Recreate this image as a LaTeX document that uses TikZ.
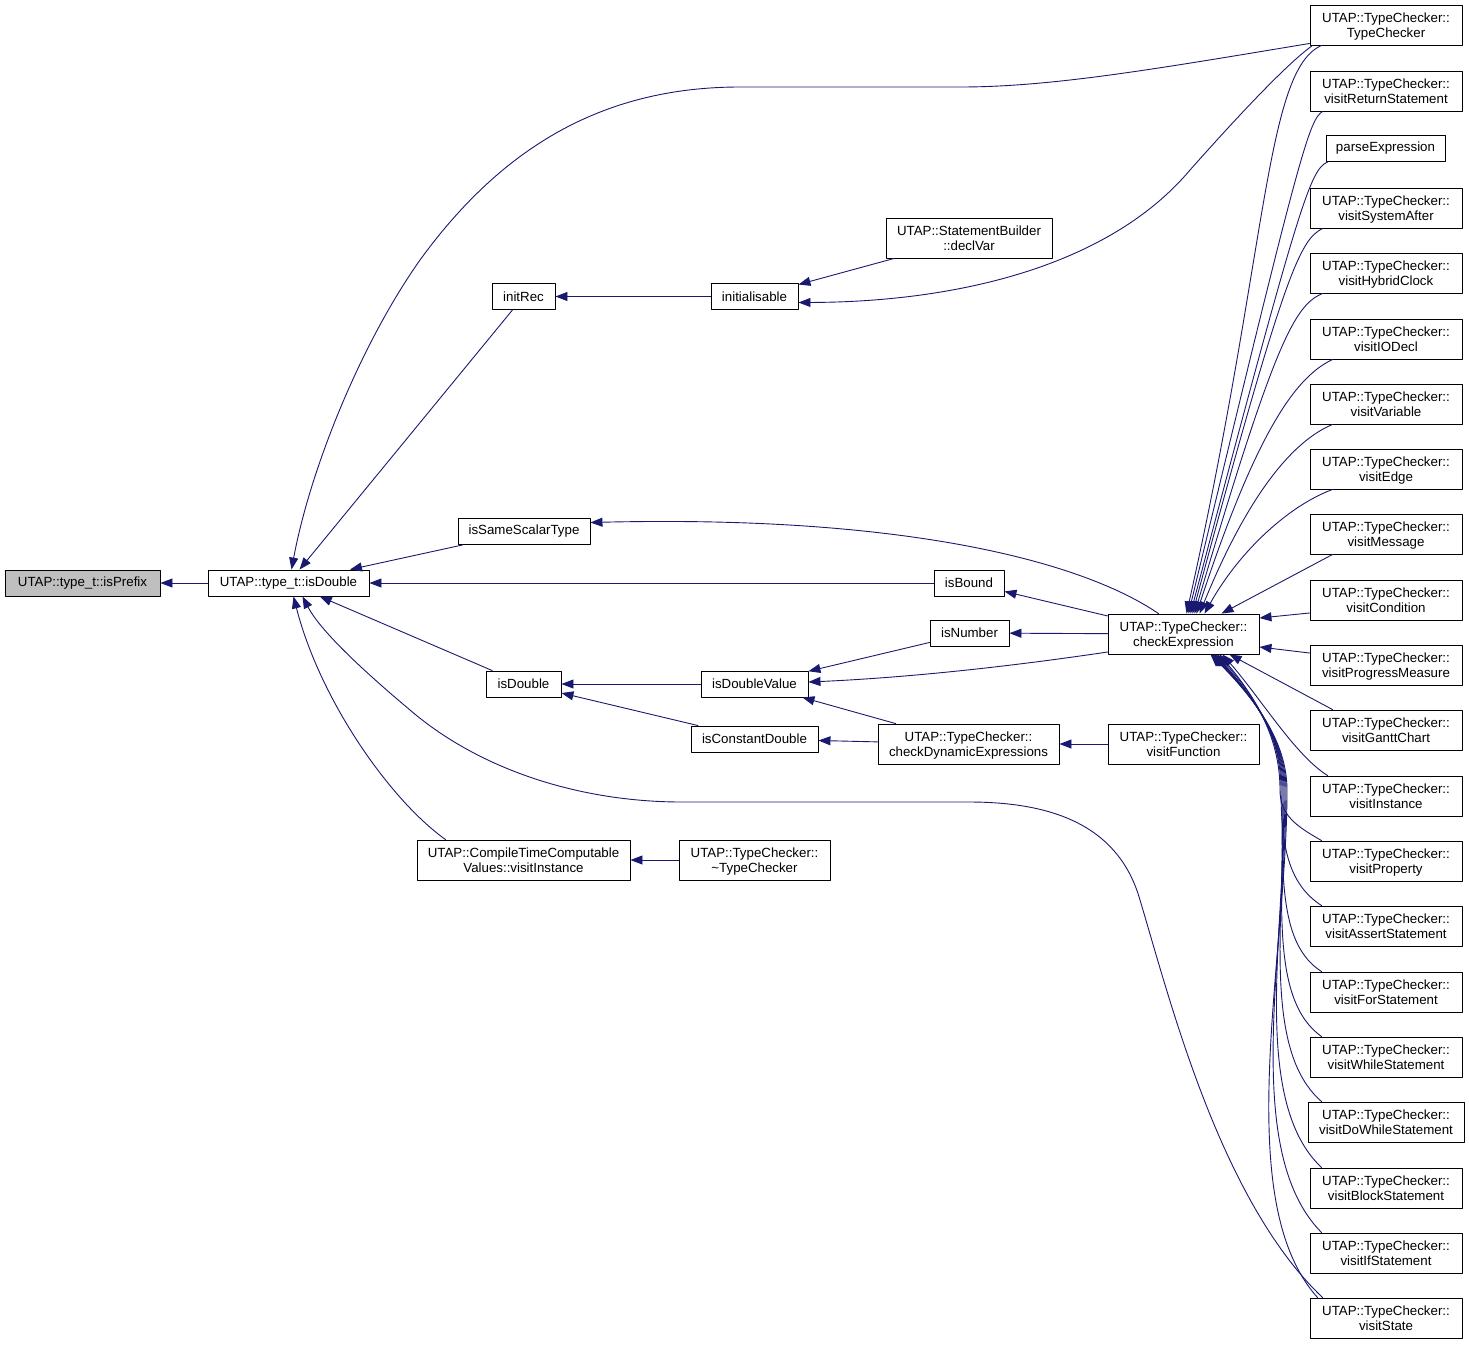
\documentclass[tikz,border=0pt]{standalone}
\usepackage{fontspec}
\setmainfont{Liberation Sans}
\usetikzlibrary{arrows.meta}
\definecolor{callblue}{RGB}{25,25,112}
\definecolor{boxgray}{RGB}{191,191,191}
\begin{document}
\begin{tikzpicture}[x=1pt, y=-1pt, font=\fontsize{13.3}{15}\selectfont, line join=round, line cap=round,
	fn/.style={draw, line width=0.9pt, inner sep=1pt, minimum height=26pt, align=center},
	fnn/.style={fn, minimum height=40pt, text depth=0pt},
	tc/.style={fnn, minimum width=152pt},
	call/.style={draw=callblue, line width=0.9pt, -{Triangle[length=12pt,width=9pt]}}]
	\def\rx{1386} % right column
	\useasboundingbox (0,0) rectangle (1469,1345);
	% left part
	\node[fn, fill=boxgray, minimum width=155] (isPrefix) at (82.5,583) {UTAP::type\_t::isPrefix};
	\node[fn, minimum width=161] (isDoubleT) at (288.5,583) {UTAP::type\_t::isDouble};
	\node[fn, minimum width=63] (initRec) at (523.5,296.5) {initRec};
	\node[fn, minimum width=132] (isSame) at (524,531.5) {isSameScalarType};
	\node[fn, minimum width=75] (isDouble) at (523.5,684) {isDouble};
	\node[fnn, minimum width=213] (ctcv) at (523.5,860) {UTAP::CompileTimeComputable\\Values::visitInstance};
	\node[fn, minimum width=87] (initialisable) at (754.5,296.5) {initialisable};
	\node[fn, minimum width=107] (isDoubleValue) at (754.5,684) {isDoubleValue};
	\node[fn, minimum width=127] (isConstDouble) at (754.5,739) {isConstantDouble};
	\node[fnn, minimum width=151] (tcDtor) at (754.5,860) {UTAP::TypeChecker::\\\textasciitilde TypeChecker};
	\node[fnn, minimum width=166] (declVar) at (969,238) {UTAP::StatementBuilder\\::declVar};
	\node[fn, minimum width=70] (isBound) at (969,583) {isBound};
	\node[fn, minimum width=79] (isNumber) at (969.5,633) {isNumber};
	\node[fnn, minimum width=181] (checkDyn) at (968.5,744) {UTAP::TypeChecker::\\checkDynamicExpressions};
	\node[fnn, minimum width=151] (checkExpr) at (1183.5,634) {UTAP::TypeChecker::\\checkExpression};
	\node[fnn, minimum width=151] (visitFunc) at (1183.5,744) {UTAP::TypeChecker::\\visitFunction};
	% right column
	\node[tc] (tc) at (\rx,25) {UTAP::TypeChecker::\\TypeChecker};
	\node[tc] (vret) at (\rx,91) {UTAP::TypeChecker::\\visitReturnStatement};
	\node[fn, minimum width=119] (parse) at (1385.5,148.5) {parseExpression};
	\node[tc] (vsys) at (\rx,208) {UTAP::TypeChecker::\\visitSystemAfter};
	\node[tc] (vhyb) at (\rx,273) {UTAP::TypeChecker::\\visitHybridClock};
	\node[tc] (vio) at (\rx,339) {UTAP::TypeChecker::\\visitIODecl};
	\node[tc] (vvar) at (\rx,404) {UTAP::TypeChecker::\\visitVariable};
	\node[tc] (vedge) at (\rx,469) {UTAP::TypeChecker::\\visitEdge};
	\node[tc] (vmsg) at (\rx,534) {UTAP::TypeChecker::\\visitMessage};
	\node[tc] (vcond) at (\rx,600) {UTAP::TypeChecker::\\visitCondition};
	\node[tc] (vprog) at (\rx,665) {UTAP::TypeChecker::\\visitProgressMeasure};
	\node[tc] (vgantt) at (\rx,730) {UTAP::TypeChecker::\\visitGanttChart};
	\node[tc] (vinst) at (\rx,796) {UTAP::TypeChecker::\\visitInstance};
	\node[tc] (vprop) at (\rx,861) {UTAP::TypeChecker::\\visitProperty};
	\node[tc] (vassert) at (\rx,926) {UTAP::TypeChecker::\\visitAssertStatement};
	\node[tc] (vfor) at (\rx,992) {UTAP::TypeChecker::\\visitForStatement};
	\node[tc] (vwhile) at (\rx,1057) {UTAP::TypeChecker::\\visitWhileStatement};
	\node[tc, minimum width=156] (vdowhile) at (\rx,1122) {UTAP::TypeChecker::\\visitDoWhileStatement};
	\node[tc] (vblock) at (\rx,1188) {UTAP::TypeChecker::\\visitBlockStatement};
	\node[tc] (vif) at (\rx,1253) {UTAP::TypeChecker::\\visitIfStatement};
	\node[tc] (vstate) at (\rx,1318) {UTAP::TypeChecker::\\visitState};
	% calls into type_t::isDouble
	\draw[call] (isDoubleT) -- (isPrefix);
	\draw[call] (initRec) -- (isDoubleT);
	\draw[call] (isSame) -- (isDoubleT);
	\draw[call] (isBound) -- (isDoubleT);
	\draw[call] (isDouble) -- (isDoubleT);
	\draw[call] ([yshift=2pt]tc.south west) .. controls (1150,70) and (1050,87) .. (960,87) -- (740,87)
		.. controls (600,87) and (500,150) .. (420,260) .. controls (360,345) and (310,470) .. ([xshift=3pt]isDoubleT.north);
	\draw[call] ([xshift=13pt]vstate.north west) .. controls (1220,1200) and (1170,1000) .. (1140,900)
		.. controls (1120,830) and (1060,802) .. (969,802) -- (682,802)
		.. controls (580,802) and (480,770) .. (410,710) .. controls (360,668) and (320,630) .. ([xshift=14pt]isDoubleT.south);
	\draw[call] ([xshift=29pt]ctcv.north west) .. controls (390,800) and (320,700) .. ([xshift=5pt]isDoubleT.south);
	% initialisable
	\draw[call] (initialisable) -- (initRec);
	\draw[call] (declVar) -- (initialisable);
	\draw[call] ([xshift=3pt]tc.south west) .. controls (1285,65) and (1230,125) .. (1190,170)
		.. controls (1110,265) and (960,302) .. ([yshift=-6pt]initialisable.east);
	% checkExpression and below
	\draw[call] ([xshift=-25pt]checkExpr.north) .. controls (1080,560) and (900,515) .. ([yshift=9pt]isSame.east);
	\draw[call] (checkExpr) -- (isBound);
	\draw[call] (checkExpr) -- (isNumber);
	\draw[call] ([yshift=-18pt]checkExpr.west) .. controls (1000,668) and (900,678) .. ([yshift=2pt]isDoubleValue.east);
	\draw[call] (isNumber) -- (isDoubleValue);
	\draw[call] (isDoubleValue) -- (isDouble);
	\draw[call] (isConstDouble) -- (isDouble);
	\draw[call] (checkDyn) -- (isDoubleValue);
	\draw[call] (checkDyn) -- (isConstDouble);
	\draw[call] (visitFunc) -- (checkDyn);
	\draw[call] (tcDtor) -- (ctcv);
	% callers of checkExpression
	\draw[call] ([xshift=12pt]tc.south west) .. controls (1265,70) and (1268,250) .. ([xshift=3pt]checkExpr.north);
	\draw[call] ([xshift=13pt]vret.south west) .. controls (1309,120) and (1300,150) .. ([xshift=5pt]checkExpr.north);
	\draw[call] ([xshift=2pt]parse.south west) .. controls (1310,170) and (1300,200) .. ([xshift=7pt]checkExpr.north);
	\draw[call] ([xshift=13pt]vsys.south west) .. controls (1300,240) and (1285,270) .. ([xshift=9pt]checkExpr.north);
	\draw[call] ([xshift=13pt]vhyb.south west) .. controls (1295,305) and (1275,340) .. ([xshift=11pt]checkExpr.north);
	\draw[call] ([xshift=23pt]vio.south west) .. controls (1300,375) and (1260,420) .. ([xshift=13pt]checkExpr.north);
	\draw[call] ([xshift=23pt]vvar.south west) .. controls (1295,440) and (1250,490) .. ([xshift=16pt]checkExpr.north);
	\draw[call] ([xshift=23pt]vedge.south west) .. controls (1290,505) and (1240,550) .. ([xshift=21pt]checkExpr.north);
	\draw[call] ([xshift=23pt]vmsg.south west) -- ([xshift=38pt]checkExpr.north);
	\draw[call] ([yshift=-13pt]vcond.west) -- ([yshift=16pt]checkExpr.east);
	\draw[call] ([yshift=12pt]vprog.west) -- ([yshift=-13pt]checkExpr.east);
	\draw[call] ([xshift=23pt]vgantt.north west) -- ([xshift=46pt]checkExpr.south);
	\draw[call] ([xshift=18pt]vinst.north west) .. controls (1295,755) and (1262,700) .. ([xshift=39pt]checkExpr.south);
	\draw[call] ([xshift=12pt]vprop.north west) .. controls (1296,826) and (1280,815) .. (1280,790)
		.. controls (1280,745) and (1262,705) .. ([xshift=36pt]checkExpr.south);
	\draw[call] ([xshift=12pt]vassert.north west) .. controls (1290,885) and (1281,850) .. (1281,790)
		.. controls (1281,740) and (1260,703) .. ([xshift=34pt]checkExpr.south);
	\draw[call] ([xshift=12pt]vfor.north west) .. controls (1280,945) and (1282,880) .. (1282,790)
		.. controls (1282,740) and (1258,702) .. ([xshift=32pt]checkExpr.south);
	\draw[call] ([xshift=12pt]vwhile.north west) .. controls (1270,1000) and (1283,900) .. (1283,790)
		.. controls (1283,740) and (1257,701) .. ([xshift=31pt]checkExpr.south);
	\draw[call] ([xshift=14pt]vdowhile.north west) .. controls (1262,1050) and (1284,920) .. (1284,790)
		.. controls (1284,740) and (1256,700) .. ([xshift=30pt]checkExpr.south);
	\draw[call] ([xshift=12pt]vblock.north west) .. controls (1250,1100) and (1285,930) .. (1285,790)
		.. controls (1285,740) and (1255,699) .. ([xshift=29pt]checkExpr.south);
	\draw[call] ([xshift=12pt]vif.north west) .. controls (1240,1150) and (1286,950) .. (1286,790)
		.. controls (1286,740) and (1254,698) .. ([xshift=28pt]checkExpr.south);
	\draw[call] ([xshift=8pt]vstate.north west) .. controls (1230,1200) and (1287,960) .. (1287,790)
		.. controls (1287,740) and (1253,697) .. ([xshift=27pt]checkExpr.south);
\end{tikzpicture}
\end{document}
